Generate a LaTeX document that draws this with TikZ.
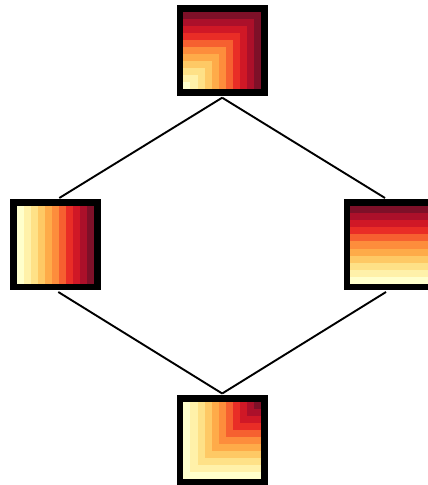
\documentclass[tikz,border=0pt]{standalone}
\usepackage{tikz}

% discrete YlOrRd levels
\definecolor{ylord0}{RGB}{255,255,204}
\definecolor{ylord1}{RGB}{255,241,169}
\definecolor{ylord2}{RGB}{254,225,135}
\definecolor{ylord3}{RGB}{254,201,101}
\definecolor{ylord4}{RGB}{254,171,73}
\definecolor{ylord5}{RGB}{253,141,60}
\definecolor{ylord6}{RGB}{246,96,48}
\definecolor{ylord7}{RGB}{233,45,38}
\definecolor{ylord8}{RGB}{208,24,38}
\definecolor{ylord9}{RGB}{172,16,42}
\definecolor{ylord10}{RGB}{126,16,40}

\begin{document}
\begin{tikzpicture}[
  x=1pt,
  y=1pt,
  heat/.style={
    draw=black,
    line width=6.7pt,
    minimum size=84.3pt,
    inner sep=0pt,
    outer sep=3.35pt,
    path picture={
      \foreach \i in {0,...,10}
        \foreach \j in {0,...,10}{
          \pgfmathtruncatemacro\lvl{#1}
          \fill[ylord\lvl]
            ([xshift=3.35pt+\i*7.05pt,yshift=3.35pt+\j*7.05pt]path picture bounding box.south west)
            rectangle ++(7.15pt,7.15pt);
        }
    }
  },
  link/.style={
    line width=1.9pt,
    draw=black
  }
]
\useasboundingbox (0,0) rectangle (428,485);

% Lattice of the four maps
\node[heat={max(\i,\j)}] (maxmap) at (222.2,434.3) {};
\node[heat={\i}] (colmap) at (55.3,240) {};
\node[heat={\j}] (rowmap) at (389,240) {};
\node[heat={min(\i,\j)}] (minmap) at (222.2,44.5) {};

\draw[link] ([yshift=-1.5pt]maxmap.south) -- ([xshift=4pt,yshift=1.5pt]colmap.north);
\draw[link] ([yshift=-1.5pt]maxmap.south) -- ([xshift=-4pt,yshift=1.5pt]rowmap.north);
\draw[link] ([xshift=3pt,yshift=-1.5pt]colmap.south) -- ([yshift=1.5pt]minmap.north);
\draw[link] ([xshift=-3pt,yshift=-1.5pt]rowmap.south) -- ([yshift=1.5pt]minmap.north);

\end{tikzpicture}
\end{document}
